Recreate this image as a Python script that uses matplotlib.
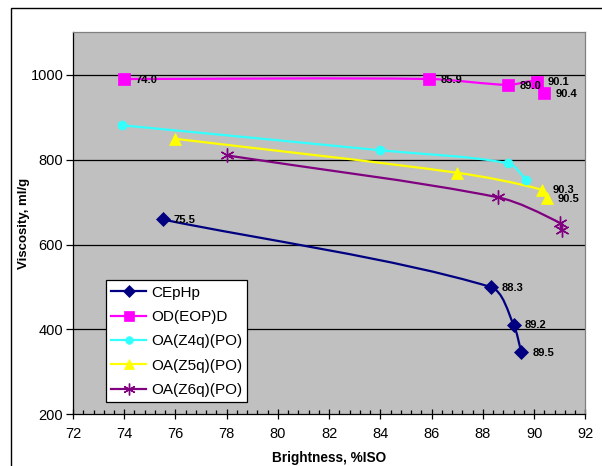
import matplotlib
matplotlib.use("Agg")
import matplotlib.pyplot as plt
import numpy as np
from matplotlib.lines import Line2D
from matplotlib.patches import PathPatch, Rectangle
from matplotlib.path import Path

plt.rcParams["font.family"] = ["Liberation Sans", "DejaVu Sans"]

# brightness (%ISO) and viscosity (ml/g)
cephp_x = [75.5, 88.3, 89.2, 89.5]
cephp_y = [659, 500, 411, 347]
odeopd_x = [74.0, 85.9, 89.0, 90.1, 90.4]
odeopd_y = [990, 990, 976, 984, 957]
z4_x = [73.9, 84.0, 89.0, 89.7]
z4_y = [881, 822, 791, 752]
z5_x = [76.0, 87.0, 90.3, 90.5]
z5_y = [849, 769, 729, 710]
z6_x = [78.0, 88.6, 91.0, 91.1]
z6_y = [810, 711, 651, 634]

series = [
    ("CEpHp", cephp_x, cephp_y, "#000080", "D", 7, [0, 1, 2, 3]),
    ("OD(EOP)D", odeopd_x, odeopd_y, "#FF00FF", "s", 8, [0, 1, 2, 3, 4]),
    ("OA(Z4q)(PO)", z4_x, z4_y, "#33FFFF", "o", 6.5, []),
    ("OA(Z5q)(PO)", z5_x, z5_y, "#FFFF00", "^", 9, [2, 3]),
    ("OA(Z6q)(PO)", z6_x, z6_y, "#800080", (6, 2, 0), 10, []),
]


def smooth_path(ax, xs, ys, k=0.3):
    # smoothed line like Excel's: Bezier tangents worked out on screen
    p = ax.transData.transform(np.column_stack([xs, ys]))
    n = len(p)
    tang = []
    for i in range(n):
        d = p[min(i + 1, n - 1)] - p[max(i - 1, 0)]
        tang.append(d / np.hypot(*d))
    verts = [p[0]]
    codes = [Path.MOVETO]
    for i in range(n - 1):
        seg = np.hypot(*(p[i + 1] - p[i]))
        verts += [p[i] + tang[i] * seg * k, p[i + 1] - tang[i + 1] * seg * k,
                  p[i + 1]]
        codes += [Path.CURVE4] * 3
    verts = ax.transData.inverted().transform(np.array(verts))
    return Path(verts, codes)


fig = plt.figure(figsize=(6.02, 4.66), dpi=100)
ax = fig.add_axes([0.1213, 0.111, 0.8510, 0.8197])
ax.set_facecolor("#C0C0C0")
ax.set_xlim(72, 92)
ax.set_ylim(200, 1100)

handles = []
for name, xs, ys, col, mk, ms, labelled in series:
    ax.add_patch(PathPatch(smooth_path(ax, xs, ys), fill=False, edgecolor=col,
                           lw=1.6, zorder=3))
    mew = 1.0 if mk == (6, 2, 0) else 0.5
    ax.plot(xs, ys, ls="none", marker=mk, ms=ms, color=col, mec=col,
            mew=mew, zorder=4)
    handles.append(Line2D([], [], color=col, lw=1.6, marker=mk,
                          ms=ms * 0.85, mec=col, mew=mew))
    for i in labelled:
        ax.annotate(f"{xs[i]:.1f}", (xs[i], ys[i]), xytext=(8, -0.5),
                    textcoords="offset points", ha="left", va="center",
                    fontsize=8, fontweight="bold", zorder=5)

ax.set_xticks(np.arange(72, 93, 2))
ax.set_xticks(np.arange(72, 92.01, 0.4), minor=True)
ax.set_yticks(np.arange(200, 1001, 200))
for yv in [400, 600, 800, 1000]:
    ax.axhline(yv, color="black", lw=0.9, zorder=1)

ax.tick_params(axis="x", which="major", direction="inout", length=7,
               width=0.9, labelsize=10.5, pad=6)
ax.tick_params(axis="x", which="minor", direction="in", length=3, width=0.9)
ax.tick_params(axis="y", which="major", direction="out", length=5,
               width=0.9, labelsize=10.5, pad=2)
for s in ["top", "right"]:
    ax.spines[s].set_color("#808080")
for s in ["left", "bottom"]:
    ax.spines[s].set_color("black")
for s in ax.spines.values():
    s.set_linewidth(0.9)

ax.set_xlabel("Brightness, %ISO", fontsize=9.8, fontweight="bold", labelpad=7)
ax.set_ylabel("Viscosity, ml/g", fontsize=9.5, fontweight="bold", labelpad=0.5)

leg = ax.legend(handles, [s[0] for s in series], loc="lower left",
                bbox_to_anchor=(0.064, 0.031), borderaxespad=0, fontsize=11,
                fancybox=False, framealpha=1, edgecolor="black",
                handlelength=2.3, handletextpad=0.3, labelspacing=0.68,
                borderpad=0.35)
leg.get_frame().set_linewidth(0.9)
leg.set_zorder(6)

fig.patches.append(Rectangle((11 / 602, -0.1), 1.2, (466 - 8) / 466 + 0.1,
                             transform=fig.transFigure, fill=False,
                             edgecolor="black", lw=1.0))

fig.savefig("out.png", dpi=100)
